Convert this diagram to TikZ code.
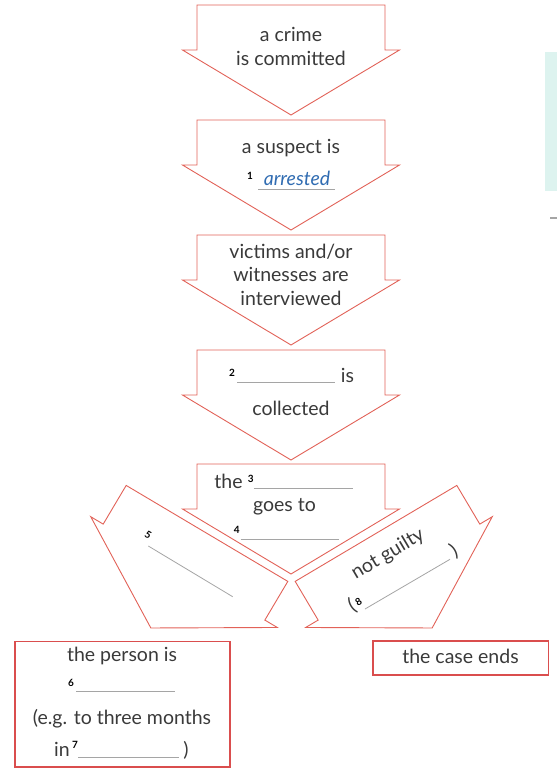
\documentclass[tikz,border=0pt]{standalone}
\usepackage{fontspec}
\setmainfont{Lato}
\definecolor{arrowred}{RGB}{226,98,88}
\definecolor{boxred}{RGB}{218,78,78}
\definecolor{txtgray}{RGB}{58,58,58}
\definecolor{blankgray}{RGB}{165,165,165}
\definecolor{inkblue}{RGB}{48,108,178}
\definecolor{mint}{RGB}{221,243,239}
\tikzset{
  flow/.style={draw=arrowred,line width=0.9pt,fill=white,line join=miter},
  endbox/.style={draw=boxred,line width=1.1pt},
  lbl/.style={text=txtgray,font=\fontsize{19.5}{24}\selectfont,inner sep=0pt,anchor=base},
  num/.style={font=\fontsize{10}{10}\selectfont\bfseries,inner sep=0pt},
  blank/.style={draw=blankgray,line width=0.8pt},
  pics/downarrow/.style={code={
    \draw[flow] (-94,0) -- (94,0) -- (94,45) -- (108.5,45) -- (0,110)
      -- (-108.5,45) -- (-94,45) -- cycle;}}
}
\begin{document}
\begin{tikzpicture}[x=1pt,y=-1pt]
\useasboundingbox (0,0) rectangle (557,769);
% page edge bits
\fill[mint] (545,52) rectangle (557,191);
\draw[blankgray,line width=1.2pt] (550,218) -- (557,218);
% the five downward arrows
\pic at (291,5) {downarrow};
\pic at (291,120) {downarrow};
\pic at (291,235) {downarrow};
\pic at (291,350) {downarrow};
\pic at (291,464) {downarrow};
% the two tilted arrows
\pic[rotate=-30.7] at (207,533.4) {downarrow};
\pic[rotate=30.7] at (376,533.4) {downarrow};
% arrow 1
\node[lbl] (crime) at (291,41.7) {a crime};
\node[lbl] (committed) at (291,65) {is committed};
% arrow 2
\node[lbl] (suspect) at (291,153.3) {a suspect is};
\node[lbl,text=inkblue,font=\fontsize{19.5}{24}\selectfont\itshape] (arrested) at (297,185) {arrested};
\node[num] (n1) at (250,175.5) {1};
\draw[blank] (258,189.5) -- (335,189.5);
% arrow 3
\node[lbl] (victims) at (291,258.3) {victims and/or};
\node[lbl] (witnesses) at (291,281.7) {witnesses are};
\node[lbl] (interviewed) at (291,305) {interviewed};
% arrow 4
\node[num] (n2) at (232,373.3) {2};
\draw[blank] (237,382.7) -- (335,382.7);
\node[lbl] (is2) at (347.5,382.7) {is};
\node[lbl] (collected) at (291,415) {collected};
% arrow 5
\node[lbl] (the3) at (228.5,488.3) {the};
\node[num] (n3) at (250.7,479.3) {3};
\draw[blank] (254,488.3) -- (353.3,488.3);
\node[lbl] (goes) at (284.5,511.7) {goes to};
\node[num] (n4) at (236.7,530) {4};
\draw[blank] (240.7,539) -- (339.3,539);
% left tilted arrow
\node[num,rotate=-30.7] (n5) at (148.3,535) {5};
\draw[blank] (148.3,546) -- (232.7,596.7);
% right tilted arrow
\node[lbl,anchor=center,rotate=30.7] (notguilty) at (388,554.3) {not guilty};
\node[lbl,anchor=center,rotate=30.7] (lpar) at (352,606) {(};
\node[num,rotate=30.7] (n8) at (358.5,601.5) {8};
\draw[blank] (365,609) -- (450,559.3);
\node[lbl,anchor=center,rotate=30.7] (rpar) at (454,550.7) {)};
% result boxes
\draw[endbox] (15,641.5) rectangle (230,767);
\node[lbl] (person) at (122,661.7) {the person is};
\node[num] (n6) at (71,683.3) {6};
\draw[blank] (76,691.7) -- (175,691.7);
\node[lbl] (eg) at (122,724) {(e.g. to three months};
\node[lbl,anchor=base west] (in7) at (54,756.5) {in};
\node[num] (n7) at (75,745) {7};
\draw[blank] (78,757.7) -- (179,757.7);
\node[lbl] (rpar7) at (186,756.5) {)};
\draw[endbox] (373,641) rectangle (548.5,675);
\node[lbl] (ends) at (460.5,663.3) {the case ends};
\end{tikzpicture}
\end{document}
